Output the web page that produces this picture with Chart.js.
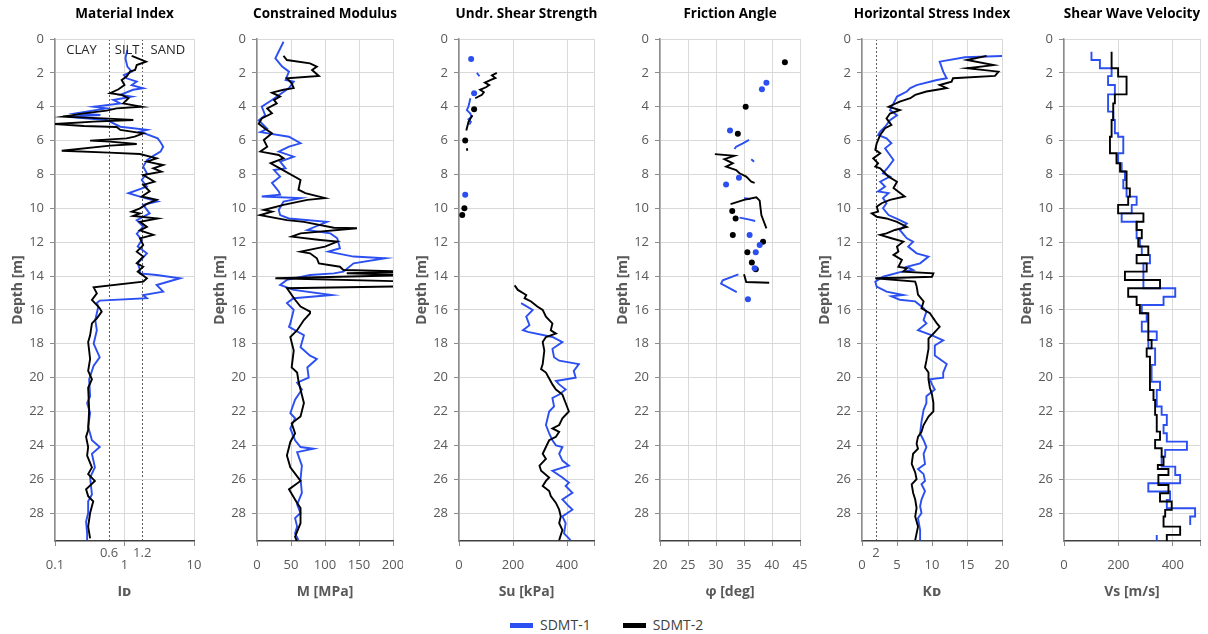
<!DOCTYPE html>
<html>
<head>
<meta charset="utf-8">
<script src="https://cdn.jsdelivr.net/npm/chart.js@4.4.1/dist/chart.umd.min.js"></script>
<style>
  body { margin: 0; background: #fff; width: 1208px; height: 634px; overflow: hidden; font-family: "Open Sans", "DejaVu Sans", sans-serif; }
  .panel { position: absolute; top: 0; height: 610px; }
  #legend { position: absolute; top: 615px; left: 510px; font-size: 14px; color: #404040; white-space: nowrap; line-height: 20px; }
  #legend .key { display: inline-block; width: 23px; height: 5px; vertical-align: middle; margin-right: 7px; position: relative; top: -1px; }
  #legend .item { margin-right: 32px; }
</style>
</head>
<body>
<div class="panel" style="left:0px;width:204px"><canvas id="c0"></canvas></div>
<div class="panel" style="left:202px;width:201px"><canvas id="c1"></canvas></div>
<div class="panel" style="left:404px;width:200px"><canvas id="c2"></canvas></div>
<div class="panel" style="left:605px;width:205px"><canvas id="c3"></canvas></div>
<div class="panel" style="left:807px;width:205px"><canvas id="c4"></canvas></div>
<div class="panel" style="left:1009px;width:199px"><canvas id="c5"></canvas></div>
<div id="legend"><span class="item"><span class="key" style="background:#2b4ff0"></span>SDMT-1</span><span><span class="key" style="background:#000"></span>SDMT-2</span></div>
<script>
// depth profiles, rows are [depth m, value]; null breaks a line
const depthTicks = [0, 2, 4, 6, 8, 10, 12, 14, 16, 18, 20, 22, 24, 26, 28];
const depthMax = 29.65;

// Material index I_D
const idTicks = [0.1, 0.6, 1, 1.8, 10];
const idTickLabels = ['0.1', '0.6', '1', '1.2', '10'];
const idBoundary = [0.6, 1.8];
const soilNames = ['CLAY', 'SILT', 'SAND'];
const soilNameAt = [0.24, 1.09, 4.2];
const id1 = [[0.65,1.10],[1.14,1.03],[1.63,1.10],[1.93,1.27],[2.13,0.98],[2.32,1.07],[2.52,1.50],[2.72,1.27],[2.91,1.86],[3.0,1.33],[3.3,0.87],[3.4,1.27],[3.6,0.69],[3.8,0.87],[4.0,0.36],[4.1,0.55],[4.39,0.20],[4.49,0.45],[4.59,0.15],[4.78,0.55],[5.18,0.87],[5.37,2.10],[5.47,1.67],[5.87,3.0],[6.1,3.3],[6.36,3.6],[6.65,3.3],[6.9,2.6],[7.15,2.1],[7.54,1.86],[7.93,2.1],[8.33,1.77],[8.72,2.1],[9.11,1.14],[9.31,1.67],[9.6,3.0],[9.8,1.86],[10.3,2.3],[10.7,1.5],[11.08,1.86],[11.5,1.5],[11.87,1.77],[12.26,1.55],[12.66,2.1],[13.25,1.55],[13.64,1.67],[13.84,1.67],[13.94,2.9],[14.13,6.3],[14.53,2.9],[14.92,3.6],[15.12,1.86],[15.31,2.1],[15.45,0.44],[15.6,0.40],[15.8,0.42],[16.6,0.38],[17.2,0.40],[18.0,0.36],[18.8,0.44],[19.3,0.36],[20.1,0.31],[21.1,0.32],[21.5,0.29],[22.1,0.32],[22.9,0.30],[23.7,0.34],[24.1,0.44],[24.5,0.34],[25.3,0.375],[25.9,0.32],[26.9,0.34],[27.3,0.30],[28.0,0.30],[28.5,0.28],[29.2,0.29],[29.6,0.29]];
const id2 = [[1.0,1.27],[1.34,2.04],[1.54,1.50],[1.83,1.42],[1.93,1.20],[2.22,1.07],[2.42,0.91],[2.72,1.0],[2.97,0.82],[3.2,0.62],[3.3,0.91],[3.5,1.14],[3.8,0.96],[4.0,1.77],[4.1,0.77],[4.23,0.55],[4.39,0.26],[4.59,0.13],[4.69,0.50],[4.78,1.34],[4.88,0.36],[5.02,0.10],[5.14,0.26],[5.2,0.77],[5.37,0.87],[5.57,1.86],[5.77,1.40],[5.87,1.07],[6.0,0.32],[6.06,0.62],[6.2,1.50],[6.3,0.62],[6.6,0.125],[6.71,0.60],[6.79,1.67],[7.05,2.9],[7.24,2.1],[7.44,3.6],[7.64,2.6],[7.83,3.4],[8.03,1.86],[8.43,2.7],[8.62,1.86],[9.0,2.3],[9.3,1.77],[9.5,2.9],[9.74,2.1],[10.0,1.67],[10.2,1.27],[10.3,1.67],[10.45,1.33],[10.6,3.0],[10.8,1.67],[11.1,2.1],[11.3,1.67],[11.57,2.6],[11.77,1.67],[12.17,1.86],[12.56,1.50],[12.85,1.86],[13.25,1.50],[13.45,1.86],[13.74,1.55],[14.13,2.1],[14.33,1.86],[14.67,0.36],[15.02,0.40],[15.41,0.34],[15.9,0.44],[16.1,0.47],[16.5,0.40],[16.8,0.34],[17.5,0.32],[17.9,0.30],[18.9,0.32],[19.6,0.30],[20.1,0.34],[20.6,0.30],[21.9,0.31],[23.1,0.30],[23.5,0.28],[24.1,0.30],[24.6,0.29],[25.3,0.34],[25.7,0.30],[26.1,0.375],[26.6,0.28],[27.0,0.30],[27.3,0.355],[28.0,0.32],[28.8,0.30],[29.5,0.32]];

// Constrained modulus M [MPa]
const mTicks = [0, 50, 100, 150, 200];
const m1 = [[0.16,39],[1.14,27],[1.63,37],[1.93,47],[2.42,42],[2.52,54],[2.9,47],[3.6,22],[4.0,7],[4.5,12],[4.8,2.5],[5.3,15],[5.5,5],[5.77,47],[6.16,64],[6.36,47],[6.65,32],[6.95,54],[7.24,34],[7.64,42],[7.74,25],[8.13,34],[8.5,22],[9.0,32],[9.2,34],[9.3,7],[9.4,64],[9.6,39],[10.1,32],[10.4,34],[10.6,47],[10.8,103],[11.28,74],[11.48,108],[11.77,118],[12.36,122],[12.56,105],[12.85,142],[12.95,189],[13.25,142],[13.74,127],[13.84,113],[13.94,78],[14.23,44],[14.53,34],[14.82,54],[15.12,110],[15.31,54],[15.5,47],[15.6,44],[16.0,54],[16.8,49],[17.0,47],[17.5,69],[18.2,64],[18.7,78],[18.9,88],[19.4,74],[20.0,76],[20.3,59],[20.7,66],[21.3,56],[22.1,49],[22.4,56],[23.0,49],[23.7,56],[24.1,64],[24.2,83],[24.4,59],[25.2,66],[26.0,64],[26.8,66],[27.5,59],[28.0,64],[28.3,56],[28.8,59],[29.2,56],[29.6,61]];
const m2 = [[1.0,39],[1.24,44],[1.44,78],[1.63,88],[1.83,81],[2.18,91],[2.32,44],[2.62,51],[2.9,54],[3.0,39],[3.17,22],[3.4,34],[3.6,25],[3.8,29],[4.1,15],[4.39,22],[4.69,7],[5.0,2.5],[5.3,12],[5.57,22],[5.96,10],[6.36,15],[6.65,5],[6.85,32],[7.05,39],[7.34,20],[7.54,29],[8.33,64],[8.9,61],[9.1,71],[9.4,100],[9.5,74],[9.8,39],[10.1,10],[10.2,22],[10.4,5],[10.7,44],[10.8,69],[11.15,113],[11.18,147],[11.48,64],[11.67,51],[11.87,93],[11.97,118],[12.26,100],[12.56,64],[12.66,78],[12.95,88],[13.25,91],[13.45,122],[13.64,127],[13.74,230],[13.84,132],[13.94,230],[14.13,27],[14.33,230],[14.6,230],[14.72,44],[15.0,49],[15.4,56],[15.8,64],[16.1,78],[16.2,78],[16.6,69],[17.2,59],[17.6,49],[18.4,54],[19.4,51],[19.7,59],[20.2,61],[20.7,64],[21.5,69],[22.3,64],[22.7,51],[23.3,56],[23.8,49],[24.6,44],[25.3,49],[26.1,64],[26.6,47],[27.4,59],[27.7,64],[28.6,64],[29.4,56],[29.7,59]];

// Undrained shear strength Su [kPa]
const suTicks = [0, 200, 400, 500];
const suTickLabels = ['0', '200', '400', ''];
const su1Line = [[2.0,66],[2.2,76],null,[3.5,42],[3.8,38],[4.0,35],[4.2,29],[4.4,42],[4.6,46],[4.75,35],[4.9,44],[5.05,38],null,[15.6,230],[16.0,273],[16.4,249],[16.9,261],[17.2,237],[17.3,255],[17.6,346],[17.9,383],[18.3,346],[18.8,352],[19.0,371],[19.2,444],[19.6,425],[20.0,432],[20.2,359],[20.4,371],[20.7,395],[21.0,371],[21.2,346],[21.7,352],[22.0,334],[22.4,328],[22.8,322],[23.3,334],[23.7,346],[24.0,359],[24.1,383],[24.5,371],[24.9,383],[25.2,407],[25.5,346],[25.9,383],[26.2,407],[26.4,395],[26.8,420],[27.2,383],[27.6,407],[27.8,420],[28.2,383],[28.6,395],[29.2,389],[29.6,413]];
const su1Dots = [[1.18,45],[3.2,56],[9.2,23]];
const su2Line = [[2.0,140],[2.15,122],[2.3,135],[2.42,118],[2.58,96],[2.72,112],[2.85,100],[3.0,78],[3.15,92],[3.3,85],[3.5,60],null,[4.5,50],[4.65,44],[4.9,35],[5.1,32],[5.4,27],null,[6.45,29],[6.6,31],null,[14.55,206],[14.82,218],[15.12,249],[15.31,243],[15.5,267],[15.8,290],[16.0,310],[16.4,322],[16.8,346],[17.2,340],[17.4,359],[17.6,322],[17.9,310],[18.4,316],[19.2,310],[19.5,304],[19.7,322],[20.05,334],[20.4,346],[20.7,359],[21.0,383],[21.5,395],[22.0,407],[22.4,383],[22.8,371],[23.0,346],[23.2,371],[23.5,359],[23.7,334],[24.1,322],[24.5,310],[24.8,322],[25.2,298],[25.5,304],[25.9,334],[26.1,322],[26.4,310],[26.7,334],[27.0,340],[27.4,359],[27.8,371],[28.2,377],[28.6,371],[29.0,383],[29.3,377],[29.6,371]];
const su2Dots = [[4.15,56],[6.0,23],[10.0,20],[10.4,12]];

// Friction angle phi [deg]
const phiTicks = [20, 25, 30, 35, 40, 45];
const phi1Line = [[5.96,35.9],[6.16,34.8],[6.36,33.6],[6.5,33.3],null,[7.1,36.3],[7.25,36.8],null,[9.4,35.0],[9.45,36.2],null,[10.55,34.2],[10.65,35.8],[10.75,37.0],null,[13.9,34.0],[14.25,31.2],[14.45,30.9],[14.95,33.7]];
const phi1Dots = [[2.58,39.0],[2.97,38.2],[5.4,32.5],[8.2,34.1],[8.6,31.8],[11.57,36.0],[12.17,37.8],[12.6,37.1],[13.54,36.9],[15.37,35.7]];
const phi2Line = [[6.8,29.8],[6.9,33.3],[7.1,31.5],[7.34,33.0],[7.54,31.8],[7.74,33.6],[7.93,34.2],[8.13,35.4],[8.43,36.3],[8.5,36.9],null,[9.75,32.6],[9.5,35.0],[9.35,37.2],[9.55,37.8],[10.4,38.1],[11.18,39.0],null,[13.9,35.0],[14.35,35.4],[14.4,39.5]];
const phi2Dots = [[1.38,42.3],[4.0,35.3],[5.6,33.9],[10.16,32.9],[10.6,33.5],[11.57,33.0],[11.97,38.4],[12.6,35.6],[13.2,36.4],[13.6,37.1]];

// Horizontal stress index K_D
const kdTicks = [0, 2, 5, 10, 15, 20];
const kdBoundary = [2];
const kd1 = [[1.0,20],[1.08,14.7],[1.34,11.1],[1.93,11.6],[2.32,12.1],[2.42,10.7],[2.72,7.8],[2.9,6.9],[3.1,6.4],[3.4,5.0],[3.8,4.5],[4.2,4.0],[4.5,5.0],[4.8,4.0],[5.18,3.3],[5.47,2.6],[5.67,2.3],[5.87,3.5],[6.16,4.2],[6.46,3.3],[6.75,3.8],[7.15,4.5],[7.54,3.8],[7.93,3.0],[8.13,4.0],[8.43,2.6],[8.72,3.3],[9.0,2.3],[9.1,3.8],[9.4,3.0],[9.7,3.5],[10.0,3.0],[10.4,3.8],[10.7,5.4],[10.9,6.4],[11.28,5.4],[11.77,6.4],[11.97,7.3],[12.26,6.6],[12.66,7.8],[12.85,9.5],[13.25,8.3],[13.45,6.4],[13.64,7.3],[13.74,5.7],[14.04,3.0],[14.33,1.9],[14.63,2.1],[14.92,3.5],[15.12,5.9],[15.2,4.2],[15.4,5.4],[15.5,7.6],[15.9,8.8],[16.1,9.2],[16.6,8.8],[16.8,9.2],[17.2,8.0],[17.5,10.0],[17.8,11.6],[18.1,10.4],[18.7,10.4],[18.9,11.1],[19.2,12.1],[19.7,11.6],[20.0,11.6],[20.1,9.7],[20.4,10.0],[20.7,10.4],[21.1,9.2],[21.5,9.2],[21.9,8.8],[22.6,8.5],[23.3,8.3],[23.7,8.8],[24.1,9.2],[24.5,8.8],[25.1,9.0],[25.4,8.0],[25.7,8.8],[26.1,9.0],[26.3,8.5],[26.7,9.0],[27.2,8.5],[27.6,8.3],[28.0,8.5],[28.3,8.0],[29.0,8.3],[29.6,8.3]];
const kd2 = [[1.0,17.8],[1.24,15.0],[1.54,18.8],[1.73,15.0],[1.93,19.5],[2.18,19.0],[2.32,13.0],[2.52,12.8],[2.72,11.1],[2.9,12.1],[3.0,10.7],[3.1,9.2],[3.3,7.6],[3.5,6.9],[3.7,5.4],[4.0,3.8],[4.2,5.4],[4.4,4.0],[4.69,3.5],[5.08,4.2],[5.27,3.3],[5.67,2.6],[6.16,2.1],[6.55,1.9],[6.75,2.6],[7.05,1.6],[7.34,2.3],[7.54,1.9],[7.64,2.6],[8.13,3.8],[8.43,5.0],[8.8,4.5],[9.3,6.1],[9.5,4.0],[9.7,2.8],[9.9,2.1],[10.2,2.3],[10.3,1.4],[10.5,2.1],[10.6,3.5],[10.8,5.0],[11.1,6.4],[11.28,4.7],[11.48,3.5],[11.57,2.6],[11.77,4.2],[11.97,5.9],[12.26,5.0],[12.56,5.2],[12.75,4.5],[13.05,5.7],[13.45,5.2],[13.54,6.4],[13.74,5.9],[13.84,10.2],[14.04,10.0],[14.1,5.4],[14.13,1.9],[14.33,7.6],[14.6,7.8],[15.1,8.0],[15.5,8.8],[15.9,8.5],[16.2,9.7],[16.5,10.2],[16.8,10.7],[17.0,11.1],[17.4,10.2],[17.7,9.5],[18.3,9.5],[19.0,9.2],[19.4,9.0],[19.7,9.5],[20.1,9.5],[20.6,9.7],[21.0,10.0],[21.5,10.2],[22.0,10.2],[22.3,9.5],[22.8,8.8],[23.2,8.5],[23.5,8.0],[23.9,7.8],[24.2,8.0],[24.5,7.3],[25.1,7.1],[25.6,7.6],[26.0,7.8],[26.3,7.1],[26.8,7.3],[27.2,7.6],[27.7,7.8],[28.2,7.6],[28.8,8.0],[29.2,7.8],[29.6,7.6]];

// Shear wave velocity Vs [m/s], rows are [top of layer, Vs], last row closes the step
const vsTicks = [0, 200, 400, 500];
const vsTickLabels = ['0', '200', '400', ''];
const vs1 = [[0.75,101],[1.24,132],[1.73,175],[2.19,162],[2.72,187],[3.27,162],[4.29,181],[4.78,187],[5.57,199],[5.77,218],[6.75,199],[7.34,212],[7.83,224],[8.33,218],[8.82,230],[9.31,267],[9.8,249],[10.3,212],[10.79,267],[11.77,279],[12.26,286],[12.76,316],[13.25,292],[14.72,409],[15.22,366],[15.71,286],[16.2,304],[16.69,286],[17.28,341],[17.78,310],[18.27,335],[19.25,322],[20.24,353],[20.73,341],[21.71,359],[22.2,378],[22.8,366],[23.29,378],[23.78,452],[24.27,372],[24.67,359],[25.26,409],[25.75,427],[26.24,310],[26.73,390],[27.22,378],[27.72,482],[28.2,464],[28.7,464],null,[29.3,341],[29.63,341]];
const vs2 = [[0.75,175],[1.73,199],[2.22,230],[3.27,187],[3.8,181],[4.78,175],[5.77,169],[6.75,193],[7.34,206],[7.83,230],[8.82,242],[9.31,236],[9.8,199],[10.3,292],[10.79,267],[11.28,286],[11.77,273],[12.26,310],[12.76,267],[13.25,304],[13.74,224],[14.23,353],[14.72,236],[15.22,267],[15.71,279],[16.2,310],[17.78,322],[18.27,304],[18.76,316],[19.65,316],[20.73,329],[21.32,335],[22.2,341],[23.19,353],[23.68,335],[24.17,359],[24.67,366],[25.16,345],[25.4,384],[25.75,347],[26.34,384],[26.83,353],[27.32,396],[27.81,372],[28.2,366],[28.8,427],[29.29,378],[29.7,378]];

const BLUE = '#2b4ff0';
const BLACK = '#000000';
const FONT = '"Open Sans", "DejaVu Sans", sans-serif';
Chart.defaults.font.family = FONT;

function toPoints(rows) {
  return rows.map(r => r ? { x: r[1], y: r[0] } : { x: null, y: null });
}

function lineSet(label, color, rows, extra) {
  return Object.assign({
    label: label, data: toPoints(rows), showLine: true,
    borderColor: color, backgroundColor: color, borderWidth: 1.9,
    pointRadius: 0, tension: 0, spanGaps: false,
    order: color === BLACK ? 1 : 2
  }, extra || {});
}

function dotSet(label, color, rows) {
  return {
    label: label, data: toPoints(rows), showLine: false,
    borderColor: color, backgroundColor: color, borderWidth: 0,
    pointRadius: 3, order: 0
  };
}

// titles and in-plot labels
const panelText = {
  id: 'panelText',
  afterDraw(chart, args, opts) {
    const { ctx, chartArea } = chart;
    ctx.save();
    ctx.fillStyle = '#000';
    ctx.textAlign = 'center';
    ctx.textBaseline = 'middle';
    ctx.font = 'bold 13.5px ' + FONT;
    ctx.fillText(opts.title, (chartArea.left + chartArea.right) / 2, 14);
    if (opts.notes) {
      ctx.font = '13px ' + FONT;
      ctx.fillStyle = '#262626';
      const xs = chart.scales.x, ys = chart.scales.y;
      opts.notes.forEach((t, i) => {
        ctx.fillText(t, xs.getPixelForValue(opts.notesAt[i]), ys.getPixelForValue(0.65));
      });
    }
    ctx.restore();
  }
};

function makePanel(id, p) {
  const special = p.special || [];
  const isSpecial = c => c.tick && special.includes(c.tick.value);
  const labels = p.labels || p.ticks.map(String);
  new Chart(document.getElementById(id), {
    type: 'scatter',
    data: { datasets: p.datasets },
    plugins: [panelText],
    options: {
      responsive: true,
      maintainAspectRatio: false,
      animation: false,
      events: [],
      layout: { padding: { top: 39, left: 0, right: 0, bottom: 0 } },
      plugins: {
        legend: { display: false },
        tooltip: { enabled: false },
        panelText: { title: p.title, notes: p.notes, notesAt: p.notesAt }
      },
      scales: {
        x: {
          type: p.log ? 'logarithmic' : 'linear',
          position: 'bottom',
          min: p.ticks[0],
          max: p.ticks[p.ticks.length - 1],
          bounds: 'data',
          afterBuildTicks: s => { s.ticks = p.ticks.map(v => ({ value: v })); },
          afterFit: s => { s.height = 69; s.paddingRight = p.padRight; s.paddingLeft = 0; },
          grid: {
            color: c => isSpecial(c) ? '#5a5a5a' : '#d9d9d9',
            tickColor: c => isSpecial(c) ? 'rgba(0,0,0,0)' : '#8c8c8c',
            tickLength: 5,
            lineWidth: 1
          },
          border: { color: '#404040', width: 1.5, dash: c => isSpecial(c) ? [2, 2] : [] },
          ticks: {
            autoSkip: false,
            maxRotation: 0,
            minRotation: 0,
            padding: 1,
            color: '#595959',
            font: { size: 13, lineHeight: 0.95 },
            callback: (v, i) => special.includes(p.ticks[i]) ? [labels[i], ''] : ['', labels[i]]
          },
          title: {
            display: true, text: p.xTitle, color: '#595959',
            font: { size: 14, weight: 'bold' }, padding: { top: 0, bottom: 10 }
          }
        },
        y: {
          type: 'linear',
          reverse: true,
          min: 0,
          max: depthMax,
          bounds: 'data',
          afterBuildTicks: s => { s.ticks = depthTicks.map(v => ({ value: v })); },
          afterFit: s => { s.width = 55; },
          grid: { color: '#d9d9d9', tickColor: '#8c8c8c', tickLength: 5, lineWidth: 1 },
          border: { color: '#8c8c8c', width: 1.5 },
          ticks: { padding: 6, color: '#595959', font: { size: 13 } },
          title: {
            display: true, text: 'Depth [m]', color: '#595959',
            font: { size: 14, weight: 'bold' }, padding: { top: 10, bottom: 0 }
          }
        }
      }
    }
  });
}

makePanel('c0', {
  title: 'Material Index', xTitle: 'Iᴅ', log: true, padRight: 10,
  ticks: idTicks, labels: idTickLabels, special: idBoundary,
  notes: soilNames, notesAt: soilNameAt,
  datasets: [lineSet('SDMT-1', BLUE, id1), lineSet('SDMT-2', BLACK, id2)]
});
makePanel('c1', {
  title: 'Constrained Modulus', xTitle: 'M [MPa]', padRight: 10,
  ticks: mTicks,
  datasets: [lineSet('SDMT-1', BLUE, m1), lineSet('SDMT-2', BLACK, m2)]
});
makePanel('c2', {
  title: 'Undr. Shear Strength', xTitle: 'Su [kPa]', padRight: 10,
  ticks: suTicks, labels: suTickLabels,
  datasets: [lineSet('SDMT-1', BLUE, su1Line), dotSet('SDMT-1', BLUE, su1Dots),
             lineSet('SDMT-2', BLACK, su2Line), dotSet('SDMT-2', BLACK, su2Dots)]
});
makePanel('c3', {
  title: 'Friction Angle', xTitle: 'φ [deg]', padRight: 10,
  ticks: phiTicks,
  datasets: [lineSet('SDMT-1', BLUE, phi1Line), dotSet('SDMT-1', BLUE, phi1Dots),
             lineSet('SDMT-2', BLACK, phi2Line), dotSet('SDMT-2', BLACK, phi2Dots)]
});
makePanel('c4', {
  title: 'Horizontal Stress Index', xTitle: 'Kᴅ', padRight: 10,
  ticks: kdTicks, special: kdBoundary,
  datasets: [lineSet('SDMT-1', BLUE, kd1), lineSet('SDMT-2', BLACK, kd2)]
});
makePanel('c5', {
  title: 'Shear Wave Velocity', xTitle: 'Vs [m/s]', padRight: 8,
  ticks: vsTicks, labels: vsTickLabels,
  datasets: [lineSet('SDMT-1', BLUE, vs1, { stepped: 'after' }),
             lineSet('SDMT-2', BLACK, vs2, { stepped: 'after' })]
});
</script>
</body>
</html>
